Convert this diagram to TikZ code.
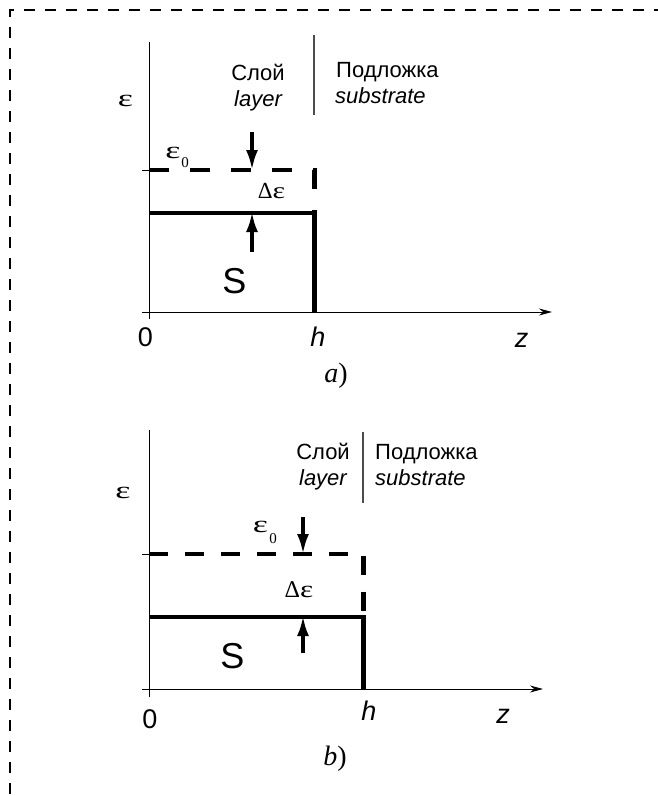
\documentclass[tikz,border=0pt]{standalone}
\usepackage{fontspec}
\usepackage{graphicx}
\setmainfont{Liberation Sans}
\newfontfamily\grfont{Liberation Serif}
\newcommand\epsw{\scalebox{1.2}[0.8]{ε}}
\usetikzlibrary{arrows.meta}

\begin{document}
\begin{tikzpicture}[x=1pt, y=-1pt, font=\fontsize{22}{26}\selectfont,
  >={Stealth[length=13pt, width=7pt]},
  axline/.style={line width=0.9pt},
  bound/.style={line width=1.1pt, black!70},
  prof/.style={line width=4.5pt},
  bump/.style={line width=3.5pt, -{Latex[length=20pt, width=12pt]}},
  txt/.style={inner sep=0pt, anchor=base},
  num/.style={inner sep=0pt, anchor=base, font=\fontsize{27}{27}\selectfont},
  gr/.style={inner sep=0pt, anchor=base, font=\grfont\fontsize{30}{30}\selectfont},
  grsub/.style={inner sep=0pt, anchor=base, font=\grfont\fontsize{15}{15}\selectfont},
  big/.style={inner sep=0pt, anchor=base, font=\fontsize{36}{36}\selectfont},
  panelcap/.style={inner sep=0pt, anchor=base, font=\grfont\fontsize{28}{28}\selectfont}]
  \useasboundingbox (0,0) rectangle (658,796);
  \draw[line width=1.6pt, dash pattern=on 11pt off 10pt, dash phase=19pt] (10,796)--(10,10)--(658,10);

  % a)
  \draw[axline] (149,319)--(149,42);
  \draw[axline, ->] (142,312)--(552,312);
  \draw[axline] (142,170)--(149,170);
  \draw[bound] (314,35)--(314,115);
  \draw[prof, dash pattern=on 20pt off 21pt] (149,170)--(314.5,170)--(314.5,213);
  \draw[prof] (149,213)--(314.5,213)--(314.5,312);
  \draw[bump] (252,132)--(252,170);
  \draw[bump] (252,252)--(252,212);
  \node[gr] (epsa) at (125.5,106) {\epsw};
  \node[gr] (epsnulla) at (173,158) {\epsw};
  \node[grsub] (nulla) at (185,167) {0};
  \node[gr, font=\grfont\fontsize{23}{23}\selectfont] (deltaa) at (271.5,198) {Δ\scalebox{1.3}[1]{ε}};
  \node[txt] (sloya) at (258,80) {Слой};
  \node[txt] (layera) at (258,106) {\itshape layer};
  \node[txt, anchor=base west] (podla) at (336,77) {Подложка};
  \node[txt, anchor=base west] (subsa) at (335,103) {\itshape substrate};
  \node[big] (sa) at (234.5,293) {S};
  \node[num] (zeroa) at (145.5,346) {0};
  \node[num] (ha) at (318,346) {\itshape h};
  \node[num] (za) at (521.5,347) {\itshape z};
  \node[panelcap] (capa) at (336,382) {\itshape a\upshape)};

  % b)
  \draw[axline] (149,697)--(149,430);
  \draw[axline, ->] (142,689)--(543,689);
  \draw[axline] (142,554)--(149,554);
  \draw[bound] (363,432)--(363,503);
  \draw[prof, dash pattern=on 19pt off 17pt] (149,554)--(363.5,554)--(363.5,617);
  \draw[prof] (149,617)--(363.5,617)--(363.5,689);
  \draw[bump] (303,517)--(303,554);
  \draw[bump] (303,653)--(303,616);
  \node[gr] (epsb) at (123,498) {\epsw};
  \node[gr] (epsnullb) at (260.5,532) {\epsw};
  \node[grsub] (nullb) at (273,543) {0};
  \node[gr, font=\grfont\fontsize{24}{24}\selectfont] (deltab) at (299,597) {Δ\scalebox{1.3}[1]{ε}};
  \node[txt, anchor=base east] (sloyb) at (350,459) {Слой};
  \node[txt, anchor=base east] (layerb) at (347,485) {\itshape layer};
  \node[txt, anchor=base west] (podlb) at (375,459) {Подложка};
  \node[txt, anchor=base west] (subsb) at (375,485) {\itshape substrate};
  \node[big] (sb) at (232.5,668) {S};
  \node[num] (zerob) at (150,728) {0};
  \node[num] (hb) at (369,720) {\itshape h};
  \node[num] (zb) at (503,723) {\itshape z};
  \node[panelcap] (capb) at (335,765) {\itshape b\upshape)};
\end{tikzpicture}
\end{document}
